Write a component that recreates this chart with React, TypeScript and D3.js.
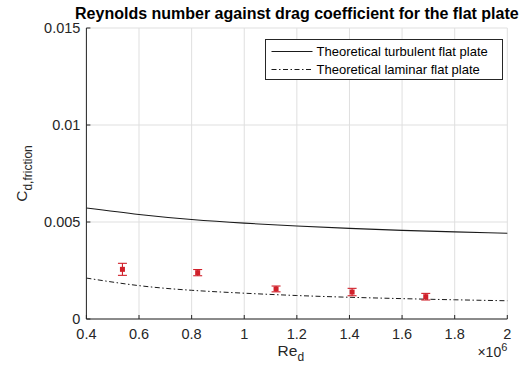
import React from "react";
import * as d3 from "d3";

// Measured drag coefficients (Re in millions)
const reynolds = [0.537, 0.823, 1.121, 1.41, 1.69];
const cdFriction = [0.00256, 0.00239, 0.00155, 0.00139, 0.00115];
const cdError = [0.00031, 0.00016, 0.00015, 0.00019, 0.00017];

// Theoretical curves sampled along Re (millions)
const curveRe = [0.4, 0.6, 0.8, 1.0, 1.2, 1.4, 1.6, 1.8, 2.0];
const turbulentCd = [0.00572, 0.00539, 0.00513, 0.00494, 0.00479, 0.00467, 0.00457, 0.00449, 0.00442];
const laminarCd = [0.00211, 0.00172, 0.00148, 0.00133, 0.00121, 0.00112, 0.00105, 0.00099, 0.00094];

const xTicks = [0.4, 0.6, 0.8, 1, 1.2, 1.4, 1.6, 1.8, 2];
const yTicks = [0, 0.005, 0.01, 0.015];
const yTickLabels = ["0", "0.005", "0.01", "0.015"];

const W = 526;
const H = 371;
const left = 86.4;
const right = 507.3;
const top = 28;
const bottom = 319;

const FONT = "'Liberation Sans', Arial, Helvetica, sans-serif";
const AXIS_COLOR = "#262626";
const GRID_COLOR = "#dfdfdf";
const RED = "#d0202a";

export default function App() {
  const x = d3.scaleLinear().domain([0.4, 2]).range([left, right]);
  const y = d3.scaleLinear().domain([0, 0.015]).range([bottom, top]);

  const line = d3
    .line<[number, number]>()
    .x((d) => x(d[0]))
    .y((d) => y(d[1]))
    .curve(d3.curveNatural);

  const turbPath = line(curveRe.map((r, i) => [r, turbulentCd[i]]) as [number, number][]) || "";
  const lamPath = line(curveRe.map((r, i) => [r, laminarCd[i]]) as [number, number][]) || "";

  const legX = 265.5;
  const legY = 39.5;
  const legW = 237;
  const legH = 40;

  return (
    <svg
      width={W}
      height={H}
      viewBox={`0 0 ${W} ${H}`}
      style={{ position: "absolute", left: 0, top: 0, background: "#fff" }}
      fontFamily={FONT}
    >
      <rect x={0} y={0} width={W} height={H} fill="#fff" />

      {/* grid */}
      {xTicks.map((t) => (
        <line key={"gx" + t} x1={x(t)} x2={x(t)} y1={top} y2={bottom} stroke={GRID_COLOR} strokeWidth={1} />
      ))}
      {yTicks.map((t) => (
        <line key={"gy" + t} x1={left} x2={right} y1={y(t)} y2={y(t)} stroke={GRID_COLOR} strokeWidth={1} />
      ))}

      {/* theoretical curves */}
      <path d={turbPath} fill="none" stroke="#1a1a1a" strokeWidth={1.1} />
      <path d={lamPath} fill="none" stroke="#1a1a1a" strokeWidth={1} strokeDasharray="5,2.5,1.5,2.5" />

      {/* measured points with error bars */}
      {reynolds.map((r, i) => {
        const cx = x(r);
        const cy = y(cdFriction[i]);
        const yt = y(cdFriction[i] + cdError[i]);
        const yb = y(cdFriction[i] - cdError[i]);
        return (
          <g key={"p" + i} stroke={RED} strokeWidth={1.1}>
            <line x1={cx} x2={cx} y1={yt} y2={yb} />
            <line x1={cx - 4.5} x2={cx + 4.5} y1={yt} y2={yt} />
            <line x1={cx - 4.5} x2={cx + 4.5} y1={yb} y2={yb} />
            <rect x={cx - 2.5} y={cy - 2.5} width={5} height={5} fill={RED} stroke="none" />
          </g>
        );
      })}

      {/* axes */}
      <line x1={left} x2={left} y1={top} y2={bottom} stroke={AXIS_COLOR} strokeWidth={1} />
      <line x1={left} x2={right} y1={bottom} y2={bottom} stroke={AXIS_COLOR} strokeWidth={1} />
      {xTicks.map((t) => (
        <g key={"xt" + t}>
          <line x1={x(t)} x2={x(t)} y1={bottom} y2={bottom - 4} stroke={AXIS_COLOR} />
          <text x={x(t)} y={bottom + 20} textAnchor="middle" fontSize={14.5} fill={AXIS_COLOR}>
            {t}
          </text>
        </g>
      ))}
      {yTicks.map((t, i) => (
        <g key={"yt" + t}>
          <line x1={left} x2={left + 4} y1={y(t)} y2={y(t)} stroke={AXIS_COLOR} />
          <text x={left - 6} y={y(t) + 5} textAnchor="end" fontSize={14.5} fill={AXIS_COLOR}>
            {yTickLabels[i]}
          </text>
        </g>
      ))}

      {/* exponent */}
      <text x={right} y={357} textAnchor="end" fontSize={14} fill={AXIS_COLOR}>
        ×10
        <tspan dy={-6} fontSize={11}>
          6
        </tspan>
      </text>

      {/* axis labels */}
      <text x={(left + right) / 2 - 6} y={356} textAnchor="middle" fontSize={15.5} fill={AXIS_COLOR}>
        Re
        <tspan dy={5} fontSize={12}>
          d
        </tspan>
      </text>
      <text
        transform={`translate(27, ${(top + bottom) / 2}) rotate(-90)`}
        textAnchor="middle"
        fontSize={15.5}
        fill={AXIS_COLOR}
      >
        C
        <tspan dy={5} fontSize={12}>
          d,friction
        </tspan>
      </text>

      {/* title */}
      <text x={(left + right) / 2} y={18.5} textAnchor="middle" fontSize={16} fontWeight="bold" fill="#000">
        Reynolds number against drag coefficient for the flat plate
      </text>

      {/* legend */}
      <rect x={legX} y={legY} width={legW} height={legH} fill="#fff" stroke="#262626" strokeWidth={1} />
      <line x1={legX + 6} x2={legX + 47} y1={legY + 12} y2={legY + 12} stroke="#1a1a1a" strokeWidth={1.1} />
      <text x={legX + 51} y={legY + 16.5} fontSize={13} fill="#000">
        Theoretical turbulent flat plate
      </text>
      <line
        x1={legX + 6}
        x2={legX + 47}
        y1={legY + 30}
        y2={legY + 30}
        stroke="#1a1a1a"
        strokeWidth={1}
        strokeDasharray="5,2.5,1.5,2.5"
      />
      <text x={legX + 51} y={legY + 34.5} fontSize={13} fill="#000">
        Theoretical laminar flat plate
      </text>
    </svg>
  );
}
